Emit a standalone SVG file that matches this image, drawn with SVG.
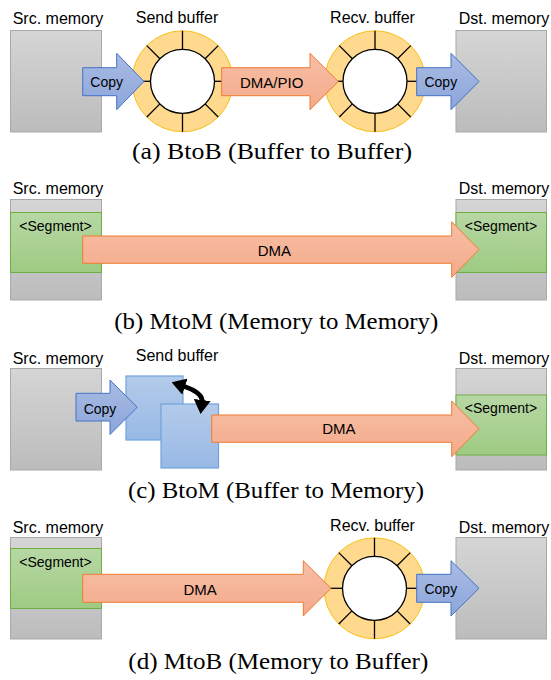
<svg xmlns="http://www.w3.org/2000/svg" xmlns:xlink="http://www.w3.org/1999/xlink" width="551" height="680" viewBox="0 0 551 680">
  <style>
    .lbl { font-family: "Liberation Sans", Arial, sans-serif; font-size: 16px; text-anchor: middle; fill: #000; }
    .in { font-family: "Liberation Sans", Arial, sans-serif; font-size: 14px; text-anchor: middle; fill: #000; }
    .dma { font-size: 15px; }
    .cap { font-family: "Liberation Serif", "Times New Roman", serif; font-size: 23px; text-anchor: middle; fill: #000; }
    .mem { fill: url(#gGray); stroke: #a9a9a9; stroke-width: 1; }
    .seg { fill: url(#gGreen); stroke: #70ad47; stroke-width: 1; }
    .blk { fill: url(#gBlue); stroke: #4472c4; stroke-width: 1; }
    .big { fill: url(#gOrange); stroke: #ed7d31; stroke-width: 1; }
    .sq { fill: url(#gSq); stroke: #6fa3dd; stroke-width: 1.2; }
    .div { stroke: #000; stroke-width: 1.3; }
  </style>
  <defs>
    <linearGradient id="gGray" x1="0" y1="0" x2="0" y2="1">
      <stop offset="0" stop-color="#d5d5d5"/>
      <stop offset="1" stop-color="#bcbcbc"/>
    </linearGradient>
    <linearGradient id="gGreen" x1="0" y1="0" x2="0" y2="1">
      <stop offset="0" stop-color="#b7d7a4"/>
      <stop offset="1" stop-color="#9ecb83"/>
    </linearGradient>
    <linearGradient id="gBlue" x1="0" y1="0" x2="0" y2="1">
      <stop offset="0" stop-color="#a9bbe3"/>
      <stop offset="1" stop-color="#8ca6db"/>
    </linearGradient>
    <linearGradient id="gOrange" x1="0" y1="0" x2="0" y2="1">
      <stop offset="0" stop-color="#f8bea5"/>
      <stop offset="1" stop-color="#f3ab8b"/>
    </linearGradient>
    <linearGradient id="gSq" x1="0" y1="0" x2="0" y2="1">
      <stop offset="0" stop-color="#b4cbea"/>
      <stop offset="1" stop-color="#98b9e5"/>
    </linearGradient>
    <!-- ring buffer: 8 slots around an empty core -->
    <g id="ring">
      <circle r="50.5" fill="#ffd98e" stroke="#f7c018" stroke-width="1"/>
      <line class="div" x1="32" y1="0" x2="50.5" y2="0"/>
      <line class="div" x1="-32" y1="0" x2="-50.5" y2="0"/>
      <line class="div" x1="0" y1="32" x2="0" y2="50.5"/>
      <line class="div" x1="0" y1="-32" x2="0" y2="-50.5"/>
      <line class="div" x1="22.6" y1="22.6" x2="35.7" y2="35.7"/>
      <line class="div" x1="-22.6" y1="22.6" x2="-35.7" y2="35.7"/>
      <line class="div" x1="22.6" y1="-22.6" x2="35.7" y2="-35.7"/>
      <line class="div" x1="-22.6" y1="-22.6" x2="-35.7" y2="-35.7"/>
      <circle r="32" fill="#fff" stroke="#000" stroke-width="1.3"/>
    </g>
    <marker id="head" markerUnits="userSpaceOnUse" viewBox="0 0 14 17" markerWidth="14" markerHeight="17" refX="2" refY="8.5" orient="auto-start-reverse">
      <path d="M0,0 L14,8.5 L0,17 Z" fill="#000"/>
    </marker>
  </defs>

  <!-- (a) buffer to buffer -->
  <g id="a-src">
    <rect class="mem" x="10.5" y="30.5" width="91" height="101.5"/>
    <text class="lbl" x="58" y="24">Src. memory</text>
  </g>
  <g id="a-send">
    <use xlink:href="#ring" x="182.5" y="81.3"/>
    <text class="lbl" x="177" y="23">Send buffer</text>
  </g>
  <g id="a-recv">
    <use xlink:href="#ring" x="375" y="81.3"/>
    <text class="lbl" x="372.5" y="23">Recv. buffer</text>
  </g>
  <g id="a-dst">
    <rect class="mem" x="456" y="30.5" width="90.5" height="101.5"/>
    <text class="lbl" x="504" y="24">Dst. memory</text>
  </g>
  <text class="cap" x="272" y="159" textLength="280" lengthAdjust="spacingAndGlyphs">(a) BtoB (Buffer to Buffer)</text>

  <!-- (b) memory to memory -->
  <g id="b-src">
    <rect class="mem" x="10.5" y="199.5" width="91" height="100.5"/>
    <rect class="seg" x="10.5" y="212.5" width="91" height="60"/>
    <text class="in" x="55.5" y="230.5">&lt;Segment&gt;</text>
    <text class="lbl" x="58" y="194">Src. memory</text>
  </g>
  <g id="b-dst">
    <rect class="mem" x="456" y="199.5" width="90.5" height="100.5"/>
    <rect class="seg" x="456" y="212.5" width="90.5" height="60"/>
    <text class="in" x="501" y="230.5">&lt;Segment&gt;</text>
    <text class="lbl" x="504" y="194">Dst. memory</text>
  </g>
  <text class="cap" x="276.3" y="328.5" textLength="324" lengthAdjust="spacingAndGlyphs">(b) MtoM (Memory to Memory)</text>

  <!-- (c) buffer to memory -->
  <g id="c-src">
    <rect class="mem" x="10.5" y="368.5" width="91" height="101.5"/>
    <text class="lbl" x="58" y="364">Src. memory</text>
  </g>
  <g id="c-send">
    <rect class="sq" x="126" y="376" width="57" height="64"/>
    <rect class="sq" x="161" y="404" width="57.5" height="64"/>
    <text class="lbl" x="177" y="361">Send buffer</text>
  </g>
  <g id="c-dst">
    <rect class="mem" x="456" y="368.5" width="90.5" height="101.5"/>
    <rect class="seg" x="456" y="395" width="90.5" height="60"/>
    <text class="in" x="501" y="412.7">&lt;Segment&gt;</text>
    <text class="lbl" x="504" y="364">Dst. memory</text>
  </g>
  <text class="cap" x="276" y="498" textLength="296" lengthAdjust="spacingAndGlyphs">(c) BtoM (Buffer to Memory)</text>

  <!-- (d) memory to buffer -->
  <g id="d-src">
    <rect class="mem" x="10.5" y="537.5" width="91" height="101.5"/>
    <rect class="seg" x="10.5" y="548.5" width="91" height="60"/>
    <text class="in" x="55.5" y="566.7">&lt;Segment&gt;</text>
    <text class="lbl" x="58" y="532.5">Src. memory</text>
  </g>
  <g id="d-recv">
    <use xlink:href="#ring" x="374.5" y="588.3"/>
    <text class="lbl" x="372.5" y="531">Recv. buffer</text>
  </g>
  <g id="d-dst">
    <rect class="mem" x="456" y="537.5" width="90.5" height="101.5"/>
    <text class="lbl" x="504" y="532.5">Dst. memory</text>
  </g>
  <text class="cap" x="278.3" y="669" textLength="300" lengthAdjust="spacingAndGlyphs">(d) MtoB (Memory to Buffer)</text>

  <!-- block arrows between stages -->
  <g id="connectors">
    <path class="blk" d="M82.7,67.7 H116.7 V53.3 L144,81.5 L116.7,109.7 V95.7 H82.7 Z"/>
    <text class="in" x="106.7" y="87.3">Copy</text>
    <path class="big" d="M221.7,67.7 H310 V53.3 L338.3,81.5 L310,109.7 V95.7 H221.7 Z"/>
    <text class="in dma" x="271.7" y="87.5">DMA/PIO</text>
    <path class="blk" d="M416.7,67.7 H451 V53.3 L479,81.5 L451,109.7 V95.7 H416.7 Z"/>
    <text class="in" x="440.8" y="87.3">Copy</text>

    <path class="big" d="M82.7,236 H451.7 V221.7 L479,249.5 L451.7,277.3 V263.3 H82.7 Z"/>
    <text class="in dma" x="274.3" y="256">DMA</text>

    <path class="blk" d="M76,393.3 H110 V380 L137.3,407.2 L110,434.5 V421 H76 Z"/>
    <text class="in" x="100" y="414">Copy</text>
    <path d="M183,386 C192,389 203,394 202,402" fill="none" stroke="#000" stroke-width="5" marker-start="url(#head)" marker-end="url(#head)"/>
    <path class="big" d="M211.7,415 H451.7 V401 L479,428.8 L451.7,456.7 V442.3 H211.7 Z"/>
    <text class="in dma" x="338.8" y="434.3">DMA</text>

    <path class="big" d="M82.7,574.3 H303.3 V560.7 L331,588.3 L303.3,616 V602.3 H82.7 Z"/>
    <text class="in dma" x="200.2" y="595">DMA</text>
    <path class="blk" d="M416.7,574.3 H451 V560.7 L479,588.3 L451,616 V602.3 H416.7 Z"/>
    <text class="in" x="440.8" y="594">Copy</text>
  </g>
</svg>
